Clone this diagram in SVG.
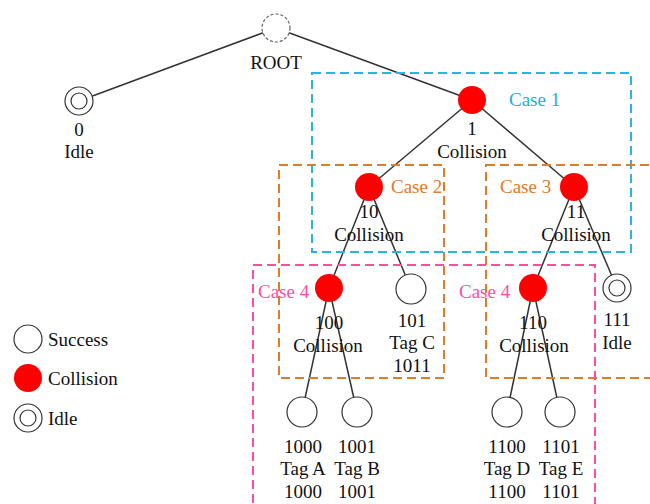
<svg xmlns="http://www.w3.org/2000/svg" width="650" height="504" viewBox="0 0 650 504">
<style>
text{font-family:'Liberation Serif',serif;font-size:19px;fill:#111;text-anchor:middle}
.edge{stroke:#333;stroke-width:1.5;fill:none}
.node{fill:#fff;stroke:#333;stroke-width:1.2}
.col{fill:#ff0000;stroke:none}
.box{fill:none;stroke-width:2;stroke-dasharray:9 5}
.blue{stroke:#29b4e6}
.orange{stroke:#e07b28}
.pink{stroke:#ff4da6}
.lab{text-anchor:start}
</style>
<rect width="650" height="504" fill="#fff"/>
<g id="connectors">
<line class="edge" x1="276" y1="28" x2="79" y2="101"/>
<line class="edge" x1="276" y1="28" x2="472" y2="100"/>
<line class="edge" x1="472" y1="100" x2="369" y2="187"/>
<line class="edge" x1="472" y1="100" x2="574" y2="187"/>
<line class="edge" x1="369" y1="187" x2="329" y2="288"/>
<line class="edge" x1="369" y1="187" x2="411" y2="289"/>
<line class="edge" x1="574" y1="187" x2="533" y2="288"/>
<line class="edge" x1="574" y1="187" x2="617" y2="288"/>
<line class="edge" x1="329" y1="288" x2="302" y2="412"/>
<line class="edge" x1="329" y1="288" x2="357" y2="412"/>
<line class="edge" x1="533" y1="288" x2="507" y2="412"/>
<line class="edge" x1="533" y1="288" x2="560" y2="412"/>
</g>
<g id="case1">
<rect class="box blue" x="312" y="73" width="319" height="179"/>
<text class="lab" x="509" y="106" style="fill:#29abe2">Case 1</text>
</g>
<g id="case2">
<rect class="box orange" x="279" y="165" width="165" height="213"/>
<text class="lab" x="391" y="193" style="fill:#e07b28">Case 2</text>
</g>
<g id="case3">
<rect class="box orange" x="486" y="165" width="180" height="213"/>
<text class="lab" x="500" y="193" style="fill:#e07b28">Case 3</text>
</g>
<g id="case4">
<rect class="box pink" x="253" y="265" width="342" height="260"/>
<text class="lab" x="258" y="298" style="fill:#ff4da6">Case 4</text>
<text class="lab" x="459" y="298" style="fill:#ff4da6">Case 4</text>
</g>
<g id="root">
<circle cx="276" cy="28" r="14" fill="#fff" stroke="#666" stroke-width="1.2" stroke-dasharray="3 2"/>
<text x="276" y="69">ROOT</text>
</g>
<g id="n0">
<circle class="node" cx="79" cy="101" r="14"/>
<circle class="node" cx="79" cy="101" r="8"/>
<text x="79" y="136">0</text>
<text x="79" y="158">Idle</text>
</g>
<g id="n1">
<circle class="col" cx="472" cy="100" r="14"/>
<text x="472" y="135">1</text>
<text x="472" y="158">Collision</text>
</g>
<g id="n10">
<circle class="col" cx="369" cy="187" r="14"/>
<text x="369" y="218">10</text>
<text x="369" y="241">Collision</text>
</g>
<g id="n11">
<circle class="col" cx="574" cy="187" r="14"/>
<text x="576" y="218">11</text>
<text x="576" y="241">Collision</text>
</g>
<g id="n100">
<circle class="col" cx="329" cy="288" r="14"/>
<text x="329" y="329">100</text>
<text x="328" y="352">Collision</text>
</g>
<g id="n101">
<circle class="node" cx="411" cy="289" r="15"/>
<text x="412" y="327">101</text>
<text x="412" y="349">Tag C</text>
<text x="412" y="372">1011</text>
</g>
<g id="n110">
<circle class="col" cx="533" cy="288" r="14"/>
<text x="533" y="329">110</text>
<text x="534" y="352">Collision</text>
</g>
<g id="n111">
<circle class="node" cx="617" cy="288" r="14"/>
<circle class="node" cx="617" cy="288" r="8"/>
<text x="617" y="326">111</text>
<text x="617" y="349">Idle</text>
</g>
<g id="n1000">
<circle class="node" cx="302" cy="412" r="15"/>
<text x="303" y="453">1000</text>
<text x="303" y="475">Tag A</text>
<text x="303" y="498">1000</text>
</g>
<g id="n1001">
<circle class="node" cx="357" cy="412" r="15"/>
<text x="357" y="453">1001</text>
<text x="357" y="475">Tag B</text>
<text x="357" y="498">1001</text>
</g>
<g id="n1100">
<circle class="node" cx="507" cy="412" r="15"/>
<text x="507" y="453">1100</text>
<text x="507" y="475">Tag D</text>
<text x="507" y="498">1100</text>
</g>
<g id="n1101">
<circle class="node" cx="560" cy="412" r="15"/>
<text x="561" y="453">1101</text>
<text x="561" y="475">Tag E</text>
<text x="561" y="498">1101</text>
</g>
<g id="legend">
<circle class="node" cx="28" cy="339" r="14"/>
<text class="lab" x="48" y="346">Success</text>
<circle class="col" cx="28" cy="378" r="14"/>
<text class="lab" x="48" y="385">Collision</text>
<circle class="node" cx="28" cy="418" r="14"/>
<circle class="node" cx="28" cy="418" r="8"/>
<text class="lab" x="48" y="425">Idle</text>
</g>
</svg>
